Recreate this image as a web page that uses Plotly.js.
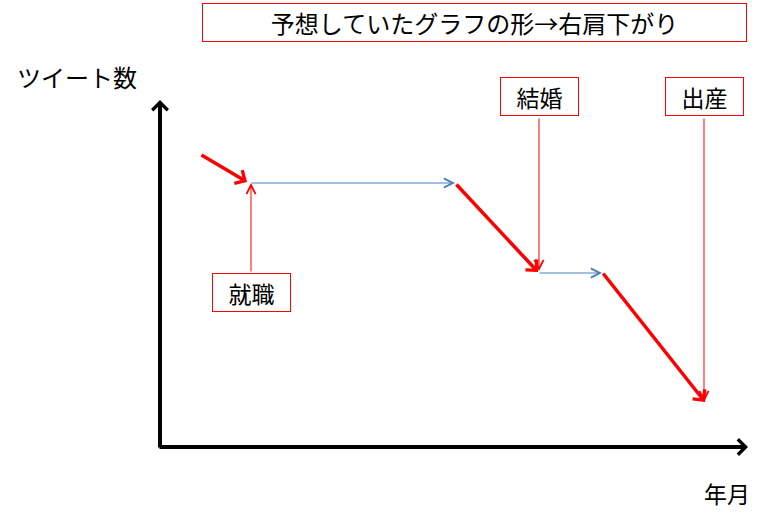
<!DOCTYPE html>
<html>
<head>
<meta charset="utf-8">
<script src="https://cdn.plot.ly/plotly-3.0.1.min.js"></script>
<style>
  html, body { margin: 0; padding: 0; background: #fff; }
  #chart { width: 769px; height: 526px; }
</style>
</head>
<body>
<div id="chart"></div>
<script>
/* trend segments (x = 年月, y = ツイート数) */
const dropX0 = [40, 295, 442];
const dropY0 = [293, 264, 175];
const dropX1 = [87, 378, 545];
const dropY1 = [265, 175, 45];

const flatX0 = [90, 378];
const flatX1 = [295, 442];
const flatY = [264, 174];

/* life events */
const eventNames = ["就職", "結婚", "出産"];
const eventX = [91, 379, 544];
const eventLabelY = [155, 351, 351];
const eventFromY = [174, 330, 330];
const eventToY = [264, 176, 45];

/* axes */
const axisEndX = 588;
const axisEndY = 347;

const titleText = "予想していたグラフの形→右肩下がり";
const font = "Noto Sans CJK JP, sans-serif";

const annotations = [];

function arrow(x0, y0, x1, y1, color, width, head, size) {
  annotations.push({
    x: x1, y: y1, ax: x0, ay: y0,
    xref: "x", yref: "y", axref: "x", ayref: "y",
    text: "", showarrow: true,
    arrowhead: head, arrowsize: size, arrowwidth: width,
    arrowcolor: color, standoff: 0, startstandoff: 0,
    font: { size: 1 },
  });
}

// axes with arrow heads
arrow(-2, 0, axisEndX, 0, "#000", 4, 4, 0.75);
arrow(0, -2, 0, axisEndY, "#000", 4, 4, 0.75);

// blue plateaus
flatX0.forEach((x, i) => arrow(x, flatY[i], flatX1[i], flatY[i], "#4a7ebb", 1, 5, 1.8));

// red drops
dropX0.forEach((x, i) => arrow(x, dropY0[i], dropX1[i], dropY1[i], "#ff0000", 3.5, 4, 0.85));

// event callouts
eventNames.forEach((name, i) => {
  arrow(eventX[i], eventFromY[i], eventX[i], eventToY[i], "#ff0000", 1, 5, 1.8);
  annotations.push({
    x: eventX[i], y: eventLabelY[i], xref: "x", yref: "y",
    text: name, showarrow: false,
    width: 77, height: 37,
    bgcolor: "#fff", bordercolor: "#ff0000", borderwidth: 1, borderpad: 0,
    font: { family: font, size: 23, color: "#000" },
  });
});

// title box
annotations.push({
  x: 314, y: 425, xref: "x", yref: "y",
  text: titleText, showarrow: false,
  width: 543, height: 37,
  bgcolor: "#fff", bordercolor: "#ff0000", borderwidth: 1, borderpad: 0,
  font: { family: font, size: 24, color: "#000" },
});

// axis labels
annotations.push({
  x: -83, y: 371, xref: "x", yref: "y", text: "ツイート数", showarrow: false,
  font: { family: font, size: 24, color: "#000" },
});
annotations.push({
  x: 567, y: -46, xref: "x", yref: "y", text: "年月", showarrow: false,
  font: { family: font, size: 23, color: "#000" },
});

const layout = {
  width: 769,
  height: 526,
  margin: { l: 0, r: 0, t: 0, b: 0 },
  paper_bgcolor: "#fff",
  plot_bgcolor: "#fff",
  showlegend: false,
  xaxis: { range: [-160, 609], visible: false, fixedrange: true },
  yaxis: { range: [-79, 447], visible: false, fixedrange: true },
  annotations: annotations,
};

Plotly.newPlot("chart", [], layout, { staticPlot: true });
</script>
</body>
</html>
